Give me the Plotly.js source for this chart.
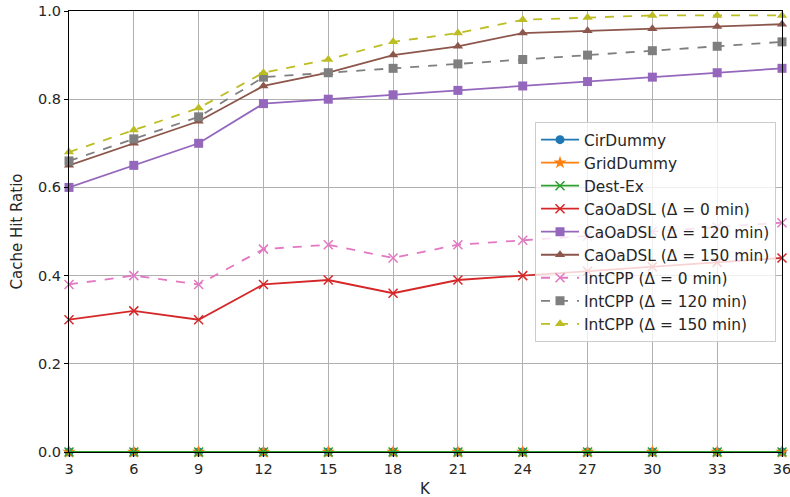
<!DOCTYPE html>
<html>
<head>
<meta charset="utf-8">
<script src="https://cdn.plot.ly/plotly-3.0.1.min.js"></script>
<style>html,body{margin:0;padding:0;background:#fff;overflow:hidden;}#chart{width:790px;height:497px;}</style>
</head>
<body>
<div id="chart"></div>
<script>
const K = [3, 6, 9, 12, 15, 18, 21, 24, 27, 30, 33, 36];
const cirDummy = [0, 0, 0, 0, 0, 0, 0, 0, 0, 0, 0, 0];
const gridDummy = [0, 0, 0, 0, 0, 0, 0, 0, 0, 0, 0, 0];
const destEx = [0, 0, 0, 0, 0, 0, 0, 0, 0, 0, 0, 0];
const caoa0 = [0.30, 0.32, 0.30, 0.38, 0.39, 0.36, 0.39, 0.40, 0.41, 0.42, 0.43, 0.44];
const caoa120 = [0.60, 0.65, 0.70, 0.79, 0.80, 0.81, 0.82, 0.83, 0.84, 0.85, 0.86, 0.87];
const caoa150 = [0.65, 0.70, 0.75, 0.83, 0.86, 0.90, 0.92, 0.95, 0.955, 0.96, 0.965, 0.97];
const int0 = [0.38, 0.40, 0.38, 0.46, 0.47, 0.44, 0.47, 0.48, 0.49, 0.50, 0.51, 0.52];
const int120 = [0.66, 0.71, 0.76, 0.85, 0.86, 0.87, 0.88, 0.89, 0.90, 0.91, 0.92, 0.93];
const int150 = [0.68, 0.73, 0.78, 0.86, 0.89, 0.93, 0.95, 0.98, 0.985, 0.99, 0.99, 0.99];
const names = ["CirDummy", "GridDummy", "Dest-Ex", "CaOaDSL (Δ = 0 min)", "CaOaDSL (Δ = 120 min)", "CaOaDSL (Δ = 150 min)", "IntCPP (Δ = 0 min)", "IntCPP (Δ = 120 min)", "IntCPP (Δ = 150 min)"];
const series = [cirDummy, gridDummy, destEx, caoa0, caoa120, caoa150, int0, int120, int150];
const colors = ["#1f77b4", "#ff7f0e", "#2ca02c", "#d62728", "#9467bd", "#8c564b", "#e377c2", "#7f7f7f", "#bcbd22"];
const symbols = ["circle", "star", "x-thin-open", "x-thin-open", "square", "triangle-up", "x-thin-open", "square", "triangle-up"];
const dashes = ["solid", "solid", "solid", "solid", "solid", "solid", "dash", "dash", "dash"];

const traces = series.map((ys, i) => {
  const thin = symbols[i] === "x-thin-open";
  return {
    x: K, y: ys, name: names[i], type: "scatter", mode: "lines+markers",
    cliponaxis: false,
    line: {color: colors[i], width: 1.8, dash: dashes[i]},
    marker: {color: colors[i], symbol: symbols[i], size: thin ? 9 : (symbols[i] === "star" ? 10 : 9),
             line: {color: colors[i], width: thin ? 1.5 : 0}}
  };
});

const layout = {
  width: 790, height: 497,
  margin: {l: 69, r: 8, t: 11, b: 45},
  paper_bgcolor: "#fff", plot_bgcolor: "#fff",
  font: {family: "DejaVu Sans, sans-serif", size: 14.5, color: "#262626"},
  showlegend: true,
  legend: {
    x: 0.6536, y: 0.748, xanchor: "left", yanchor: "top",
    bgcolor: "rgba(255,255,255,0.8)", bordercolor: "#cccccc", borderwidth: 1,
    font: {family: "DejaVu Sans, sans-serif", size: 15.4, color: "#262626"},
    tracegroupgap: 0, itemwidth: 38
  },
  annotations: [{
    text: "K", xref: "paper", yref: "paper", x: 0.5, y: 0,
    xanchor: "center", yanchor: "top", yshift: -26, showarrow: false,
    font: {family: "DejaVu Sans, sans-serif", size: 15, color: "#262626"}
  }],
  xaxis: {
    range: [3, 36], tickvals: K, ticktext: K.map(String),
    showgrid: true, gridcolor: "#b0b0b0", gridwidth: 1,
    zeroline: false, showline: true, linecolor: "#000", linewidth: 1, mirror: true,
    ticks: "outside", ticklen: 4, tickcolor: "#000", ticklabeloverflow: "allow"
  },
  yaxis: {
    range: [0, 1], dtick: 0.2, tickformat: ".1f",
    showgrid: true, gridcolor: "#b0b0b0", gridwidth: 1,
    zeroline: false, showline: true, linecolor: "#000", linewidth: 1, mirror: true,
    ticks: "outside", ticklen: 4, tickcolor: "#000",
    title: {text: "Cache Hit Ratio", standoff: 11, font: {size: 15}}
  }
};

Plotly.newPlot("chart", traces, layout, {displayModeBar: false, staticPlot: true});
</script>
</body>
</html>
